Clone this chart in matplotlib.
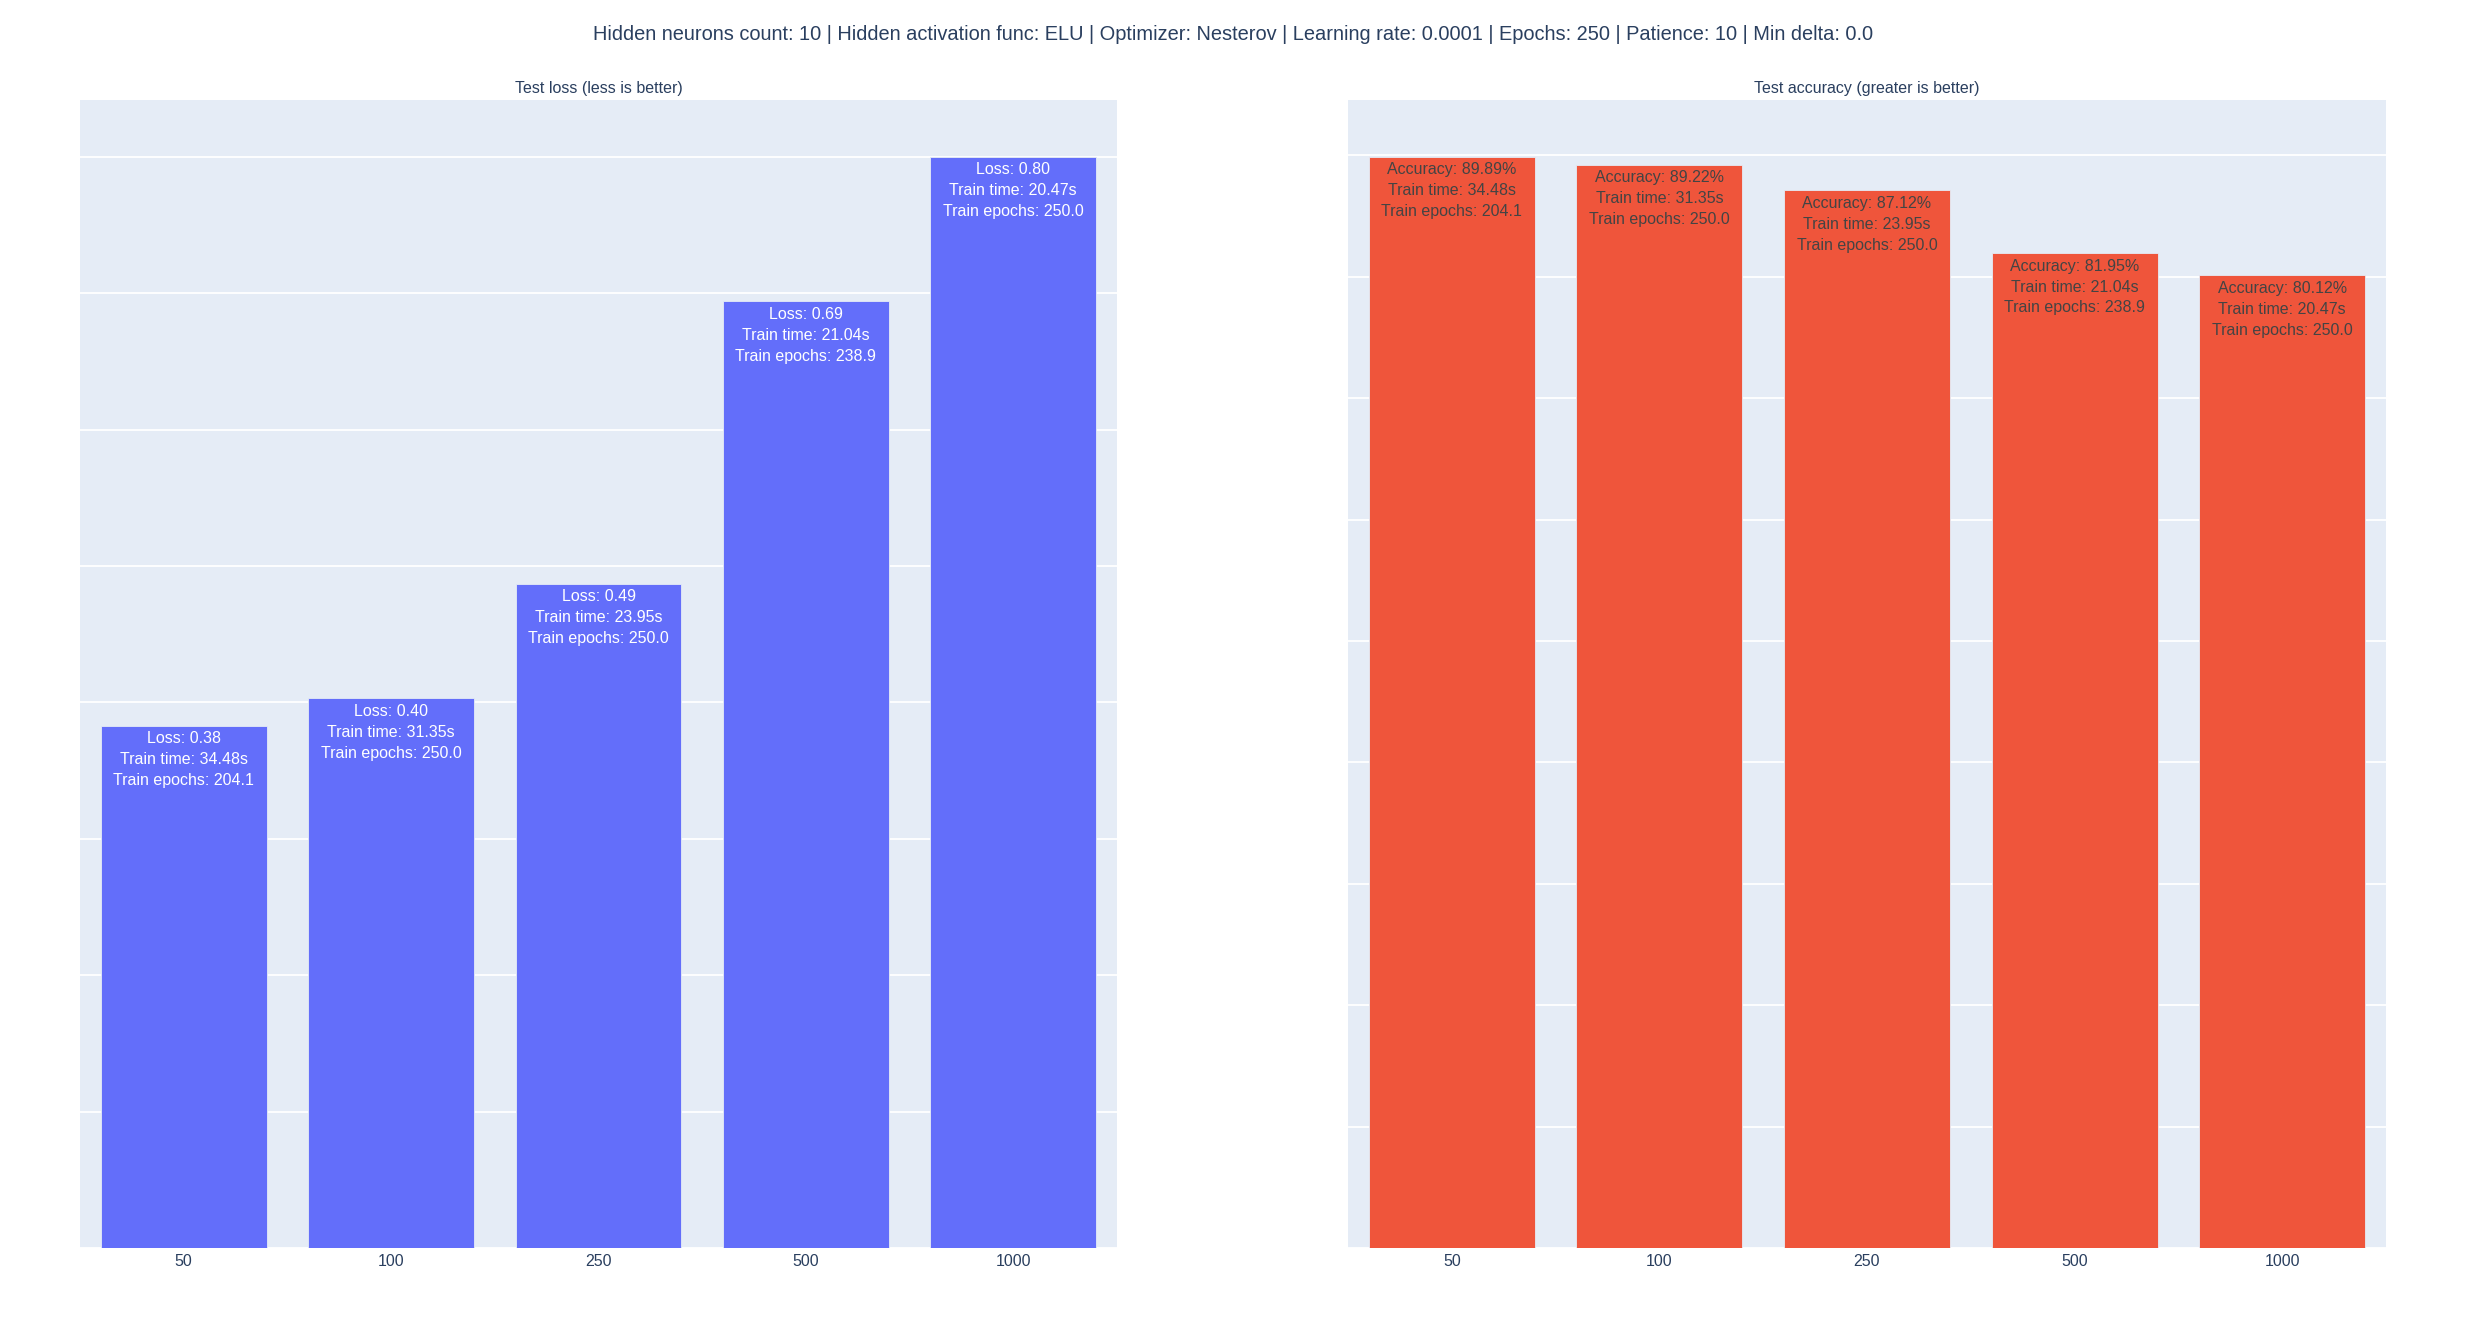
import matplotlib
matplotlib.use("Agg")
import matplotlib.pyplot as plt
from matplotlib.ticker import MultipleLocator

# ─── Data ─────────────────────────────────────────────────────────────────────
batch_sizes  = ["50", "100", "250", "500", "1000"]
test_loss    = [0.383, 0.403, 0.487, 0.694, 0.800]
loss_labels  = ["0.38", "0.40", "0.49", "0.69", "0.80"]
test_acc     = [89.89, 89.22, 87.12, 81.95, 80.12]
train_time   = [34.48, 31.35, 23.95, 21.04, 20.47]
train_epochs = [204.1, 250.0, 250.0, 238.9, 250.0]

TITLE = ("Hidden neurons count: 10 | Hidden activation func: ELU | "
         "Optimizer: Nesterov | Learning rate: 0.0001 | Epochs: 250 | "
         "Patience: 10 | Min delta: 0.0")

# ─── Style ────────────────────────────────────────────────────────────────────
W, H, DPI = 2466, 1329, 100
PT = 72 / DPI                      # px -> pt
BG      = "#E5ECF6"
INK     = "#2a3f5f"
BLUE    = "#636EFA"
RED     = "#EF553B"
plt.rcParams["font.family"] = ["Liberation Sans", "DejaVu Sans"]


def px_box(x0, x1, y0, y1):
    """axes rect from pixel edges (top-left origin)"""
    return [x0 / W, 1 - y1 / H, (x1 - x0) / W, (y1 - y0) / H]


def style_axes(ax, ymax, step):
    ax.set_facecolor(BG)
    for s in ax.spines.values():
        s.set_visible(False)
    ax.set_xlim(-0.5, len(batch_sizes) - 0.5)
    ax.set_ylim(0, ymax)
    ax.yaxis.set_major_locator(MultipleLocator(step))
    ax.grid(axis="y", color="white", linewidth=1.3)
    ax.set_axisbelow(True)
    ax.set_yticklabels([])
    ax.tick_params(axis="y", length=0)
    ax.tick_params(axis="x", length=0, pad=4, labelsize=16 * PT,
                   labelcolor=INK)


def bar_panel(ax, values, color, texts, txt_color):
    x = range(len(batch_sizes))
    ax.bar(x, values, width=0.8, color=color,
           edgecolor=BG, linewidth=0.6)
    ax.set_xticks(list(x))
    ax.set_xticklabels(batch_sizes)
    for i, (v, t) in enumerate(zip(values, texts)):
        ax.annotate(t, xy=(i, v), xytext=(0, -5.5 * PT),
                    textcoords="offset points", ha="center", va="top",
                    fontsize=16 * PT, color=txt_color, linespacing=1.49)


fig = plt.figure(figsize=(W / DPI, H / DPI), dpi=DPI)
fig.patch.set_facecolor("white")

ax_loss = fig.add_axes(px_box(80, 1117, 100, 1248))
ax_acc  = fig.add_axes(px_box(1348, 2386, 100, 1248))

loss_texts = [f"Loss: {l}\nTrain time: {t:.2f}s\nTrain epochs: {e:.1f}"
              for l, t, e in zip(loss_labels, train_time, train_epochs)]
acc_texts  = [f"Accuracy: {a:.2f}%\nTrain time: {t:.2f}s\nTrain epochs: {e:.1f}"
              for a, t, e in zip(test_acc, train_time, train_epochs)]

bar_panel(ax_loss, test_loss, BLUE, loss_texts, "white")
bar_panel(ax_acc, test_acc, RED, acc_texts, "#444444")
style_axes(ax_loss, max(test_loss) * 1.052, 0.1)
style_axes(ax_acc, max(test_acc) * 1.052, 10)

fig.text(0.5, 1 - 34 / H, TITLE, ha="center", va="center",
         fontsize=20 * PT, color=INK)
fig.text((80 + 1117) / 2 / W, 1 - 93 / H, "Test loss (less is better)",
         ha="center", va="baseline", fontsize=16 * PT, color=INK)
fig.text((1348 + 2386) / 2 / W, 1 - 93 / H,
         "Test accuracy (greater is better)",
         ha="center", va="baseline", fontsize=16 * PT, color=INK)

fig.savefig("out.png", dpi=DPI)
